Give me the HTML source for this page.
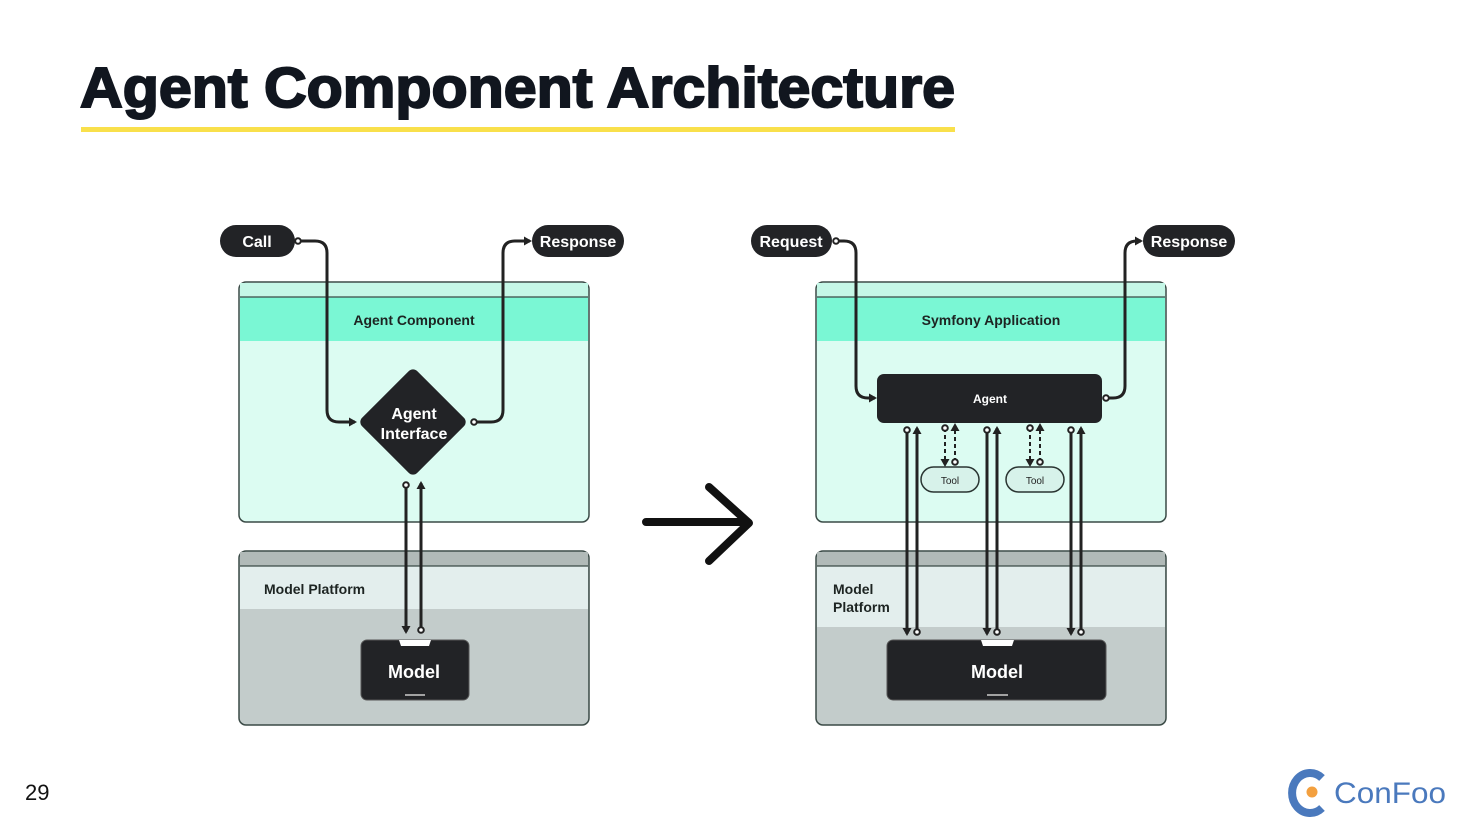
<!DOCTYPE html>
<html><head><meta charset="utf-8"><style>
html,body{margin:0;padding:0;background:#fff;}
svg{display:block;}
text{font-family:"Liberation Sans",sans-serif;}
</style></head><body>
<svg width="1470" height="828" viewBox="0 0 1470 828" xmlns="http://www.w3.org/2000/svg">
<defs>
<marker id="ar" markerWidth="9" markerHeight="9" refX="6" refY="4.5" orient="auto" markerUnits="userSpaceOnUse"><path d="M0,0 L8,4.5 L0,9 Z" fill="#222"/></marker>
<marker id="dt" markerWidth="9" markerHeight="9" refX="4.5" refY="4.5" orient="auto" markerUnits="userSpaceOnUse"><circle cx="4.5" cy="4.5" r="2.8" fill="#fff" stroke="#222" stroke-width="2"/></marker>
</defs>
<rect width="1470" height="828" fill="#fff"/>
<text x="80" y="107" font-size="57" font-weight="900" fill="#11161f" textLength="875" lengthAdjust="spacingAndGlyphs" stroke="#11161f" stroke-width="2">Agent Component Architecture</text>
<rect x="81" y="127" width="874" height="5" fill="#f9e04b"/>
<text x="25" y="800" font-size="22" fill="#111">29</text>

<!-- LEFT -->
<g>
<rect x="239" y="282" width="350" height="240" rx="7" fill="#dcfcf2" stroke="#3a4a46" stroke-width="1.5"/>
<path d="M240,297 H588 V283 H240Z" fill="#c5f7e7"/>
<rect x="240" y="297" width="348" height="44" fill="#7af7d4"/>
<line x1="240" y1="297" x2="588" y2="297" stroke="#3a4a46" stroke-width="1.2"/>
<text x="414" y="325" font-size="14" font-weight="bold" text-anchor="middle" fill="#1d2422">Agent Component</text>
<rect x="239" y="551" width="350" height="174" rx="7" fill="#c3cccb" stroke="#3a4a46" stroke-width="1.5"/>
<rect x="240" y="552" width="348" height="14" fill="#b1bab8"/>
<rect x="240" y="566" width="348" height="43" fill="#e3eeed"/>
<line x1="240" y1="566" x2="588" y2="566" stroke="#3a4a46" stroke-width="1.2"/>
<text x="264" y="594" font-size="14" font-weight="bold" fill="#1d2422">Model Platform</text>

<rect x="220" y="225" width="75" height="32" rx="16" fill="#222326"/>
<text x="257" y="247" font-size="16" font-weight="bold" fill="#fff" text-anchor="middle">Call</text>
<rect x="532" y="225" width="92" height="32" rx="16" fill="#222326"/>
<text x="578" y="247" font-size="16" font-weight="bold" fill="#fff" text-anchor="middle">Response</text>

<path d="M298,241 H315 Q327,241 327,253 V410 Q327,422 339,422 H355" fill="none" stroke="#222" stroke-width="3" marker-start="url(#dt)" marker-end="url(#ar)"/>
<path d="M474,422 H491 Q503,422 503,410 V253 Q503,241 515,241 H530" fill="none" stroke="#222" stroke-width="3" marker-start="url(#dt)" marker-end="url(#ar)"/>

<rect x="374" y="383" width="78" height="78" rx="6" fill="#222326" transform="rotate(45 413 422)"/>
<text x="414" y="419" font-size="16" font-weight="bold" fill="#fff" text-anchor="middle">Agent</text>
<text x="414" y="439" font-size="16" font-weight="bold" fill="#fff" text-anchor="middle">Interface</text>

<line x1="406" y1="485" x2="406" y2="632" stroke="#222" stroke-width="3" marker-start="url(#dt)" marker-end="url(#ar)"/>
<line x1="421" y1="630" x2="421" y2="483" stroke="#222" stroke-width="3" marker-start="url(#dt)" marker-end="url(#ar)"/>

<rect x="361" y="640" width="108" height="60" rx="6" fill="#222326" stroke="#555" stroke-width="1"/>
<path d="M399,640 H431 L429,646 H401Z" fill="#fff"/>
<line x1="405" y1="695" x2="425" y2="695" stroke="#ccc" stroke-width="1.5"/>
<text x="414" y="678" font-size="18" font-weight="bold" fill="#fff" text-anchor="middle">Model</text>
</g>

<!-- big arrow -->
<path d="M646,522 H747 M709,487 L749,523 L709,561" fill="none" stroke="#111" stroke-width="8" stroke-linecap="round" stroke-linejoin="round"/>

<!-- RIGHT -->
<g>
<rect x="816" y="282" width="350" height="240" rx="7" fill="#dcfcf2" stroke="#3a4a46" stroke-width="1.5"/>
<path d="M817,297 H1165 V283 H817Z" fill="#c5f7e7"/>
<rect x="817" y="297" width="348" height="44" fill="#7af7d4"/>
<line x1="817" y1="297" x2="1165" y2="297" stroke="#3a4a46" stroke-width="1.2"/>
<text x="991" y="325" font-size="14" font-weight="bold" text-anchor="middle" fill="#1d2422">Symfony Application</text>
<rect x="816" y="551" width="350" height="174" rx="7" fill="#c3cccb" stroke="#3a4a46" stroke-width="1.5"/>
<rect x="817" y="552" width="348" height="14" fill="#b1bab8"/>
<rect x="817" y="566" width="348" height="61" fill="#e3eeed"/>
<line x1="817" y1="566" x2="1165" y2="566" stroke="#3a4a46" stroke-width="1.2"/>
<text x="833" y="594" font-size="14" font-weight="bold" fill="#1d2422">Model</text>
<text x="833" y="612" font-size="14" font-weight="bold" fill="#1d2422">Platform</text>

<rect x="751" y="225" width="81" height="32" rx="16" fill="#222326"/>
<text x="791" y="247" font-size="16" font-weight="bold" fill="#fff" text-anchor="middle">Request</text>
<rect x="1143" y="225" width="92" height="32" rx="16" fill="#222326"/>
<text x="1189" y="247" font-size="16" font-weight="bold" fill="#fff" text-anchor="middle">Response</text>

<path d="M836,241 H844 Q856,241 856,253 V386 Q856,398 868,398 H875" fill="none" stroke="#222" stroke-width="3" marker-start="url(#dt)" marker-end="url(#ar)"/>
<path d="M1106,398 H1113 Q1125,398 1125,386 V253 Q1125,241 1137,241 H1141" fill="none" stroke="#222" stroke-width="3" marker-start="url(#dt)" marker-end="url(#ar)"/>

<rect x="877" y="374" width="225" height="49" rx="7" fill="#222326"/>
<text x="990" y="403" font-size="12" font-weight="bold" fill="#fff" text-anchor="middle">Agent</text>

<g stroke="#222" stroke-width="3">
<line x1="907" y1="430" x2="907" y2="634" marker-start="url(#dt)" marker-end="url(#ar)"/>
<line x1="917" y1="632" x2="917" y2="428" marker-start="url(#dt)" marker-end="url(#ar)"/>
<line x1="987" y1="430" x2="987" y2="634" marker-start="url(#dt)" marker-end="url(#ar)"/>
<line x1="997" y1="632" x2="997" y2="428" marker-start="url(#dt)" marker-end="url(#ar)"/>
<line x1="1071" y1="430" x2="1071" y2="634" marker-start="url(#dt)" marker-end="url(#ar)"/>
<line x1="1081" y1="632" x2="1081" y2="428" marker-start="url(#dt)" marker-end="url(#ar)"/>
</g>
<g stroke="#222" stroke-width="2" stroke-dasharray="4,3">
<line x1="945" y1="428" x2="945" y2="465" marker-start="url(#dt)" marker-end="url(#ar)"/>
<line x1="955" y1="462" x2="955" y2="425" marker-start="url(#dt)" marker-end="url(#ar)"/>
<line x1="1030" y1="428" x2="1030" y2="465" marker-start="url(#dt)" marker-end="url(#ar)"/>
<line x1="1040" y1="462" x2="1040" y2="425" marker-start="url(#dt)" marker-end="url(#ar)"/>
</g>
<rect x="921" y="467" width="58" height="25" rx="12.5" fill="#d7f2ea" stroke="#2a3532" stroke-width="1.5"/>
<text x="950" y="484" font-size="10" fill="#222" text-anchor="middle">Tool</text>
<rect x="1006" y="467" width="58" height="25" rx="12.5" fill="#d7f2ea" stroke="#2a3532" stroke-width="1.5"/>
<text x="1035" y="484" font-size="10" fill="#222" text-anchor="middle">Tool</text>

<rect x="887" y="640" width="219" height="60" rx="6" fill="#222326" stroke="#555" stroke-width="1"/>
<path d="M981,640 H1014 L1012,646 H983Z" fill="#fff"/>
<line x1="987" y1="695" x2="1008" y2="695" stroke="#ccc" stroke-width="1.5"/>
<text x="997" y="678" font-size="18" font-weight="bold" fill="#fff" text-anchor="middle">Model</text>
</g>

<!-- ConFoo logo -->
<path d="M1322,778 A18,20 0 1 0 1322,808" fill="none" stroke="#4a79bd" stroke-width="8"/>
<circle cx="1312" cy="792" r="5.5" fill="#f3a03f"/>
<text x="1334" y="803" font-size="30" fill="#4a79bd" textLength="112" lengthAdjust="spacingAndGlyphs">ConFoo</text>
</svg>
</body></html>
